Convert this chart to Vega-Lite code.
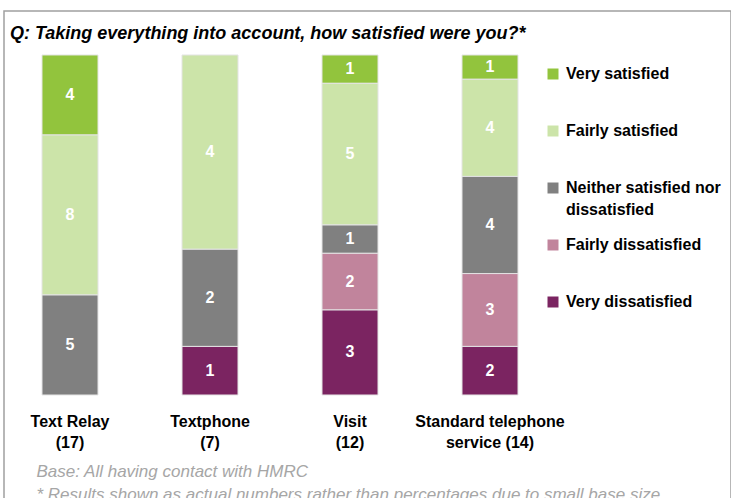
{
  "$schema": "https://vega.github.io/schema/vega-lite/v6.json",
  "width": 727,
  "height": 500,
  "autosize": {"type": "none"},
  "padding": {"left": 4, "top": 11, "right": 0, "bottom": 0},
  "background": "white",
  "config": {
    "view": {"stroke": "#a0a0a0", "strokeWidth": 1.5},
    "font": "Liberation Sans",
    "style": {"guide-label": {"lineHeight": 22}}
  },
  "title": {
    "text": "Q: Taking everything into account, how satisfied were you?*",
    "anchor": "start",
    "frame": "group",
    "offset": -46,
    "baseline": "alphabetic",
    "dx": 6,
    "font": "Liberation Sans",
    "fontSize": 18,
    "fontStyle": "italic",
    "fontWeight": "bold",
    "color": "black"
  },
  "data": {
    "values": [
      {"channel": "Text Relay (17)", "rating": "Very satisfied", "count": 4, "order": 5},
      {"channel": "Text Relay (17)", "rating": "Fairly satisfied", "count": 8, "order": 4},
      {"channel": "Text Relay (17)", "rating": "Neither satisfied nor dissatisfied", "count": 5, "order": 3},
      {"channel": "Textphone (7)", "rating": "Fairly satisfied", "count": 4, "order": 4},
      {"channel": "Textphone (7)", "rating": "Neither satisfied nor dissatisfied", "count": 2, "order": 3},
      {"channel": "Textphone (7)", "rating": "Very dissatisfied", "count": 1, "order": 1},
      {"channel": "Visit (12)", "rating": "Very satisfied", "count": 1, "order": 5},
      {"channel": "Visit (12)", "rating": "Fairly satisfied", "count": 5, "order": 4},
      {"channel": "Visit (12)", "rating": "Neither satisfied nor dissatisfied", "count": 1, "order": 3},
      {"channel": "Visit (12)", "rating": "Fairly dissatisfied", "count": 2, "order": 2},
      {"channel": "Visit (12)", "rating": "Very dissatisfied", "count": 3, "order": 1},
      {"channel": "Standard telephone service (14)", "rating": "Very satisfied", "count": 1, "order": 5},
      {"channel": "Standard telephone service (14)", "rating": "Fairly satisfied", "count": 4, "order": 4},
      {"channel": "Standard telephone service (14)", "rating": "Neither satisfied nor dissatisfied", "count": 4, "order": 3},
      {"channel": "Standard telephone service (14)", "rating": "Fairly dissatisfied", "count": 3, "order": 2},
      {"channel": "Standard telephone service (14)", "rating": "Very dissatisfied", "count": 2, "order": 1}
    ]
  },
  "encoding": {
    "x": {
      "field": "channel",
      "type": "nominal",
      "sort": ["Text Relay (17)", "Textphone (7)", "Visit (12)", "Standard telephone service (14)"],
      "scale": {"paddingInner": 0.6, "paddingOuter": 0.8964, "align": 0.1514},
      "axis": {
        "offset": -111,
        "domain": false,
        "ticks": false,
        "tickSize": 0,
        "labelAngle": 0,
        "labelPadding": 13,
        "labelFont": "Liberation Sans",
        "labelFontSize": 16,
        "labelFontWeight": "bold",
        "labelColor": "black",
        "labelLineHeight": 21,
        "labelExpr": "datum.value == 'Standard telephone service (14)' ? ['Standard telephone', 'service (14)'] : split(replace(datum.value, ' (', '|('), '|')",
        "title": ["Base: All having contact with HMRC", "* Results shown as actual numbers rather than percentages due to small base size"],
        "titleAnchor": "start",
        "titleAlign": "left",
        "titleX": 32,
        "titleY": 76,
        "titleBaseline": "alphabetic",
        "titleFont": "Liberation Sans",
        "titleFontSize": 17,
        "titleFontStyle": "italic",
        "titleFontWeight": "normal",
        "titleColor": "#a6a6a6",
        "titleLineHeight": 23
      }
    },
    "y": {
      "field": "count",
      "type": "quantitative",
      "stack": "normalize",
      "scale": {"domain": [-0.3412, 1.1294], "nice": false, "zero": false},
      "axis": null
    },
    "order": {"field": "order", "type": "quantitative"}
  },
  "layer": [
    {
      "mark": {"type": "bar", "stroke": "#e4e4e4", "strokeWidth": 1},
      "encoding": {
        "color": {
          "field": "rating",
          "type": "nominal",
          "scale": {
            "domain": ["Very satisfied", "Fairly satisfied", "Neither satisfied nor dissatisfied", "Fairly dissatisfied", "Very dissatisfied"],
            "range": ["#92c43d", "#cce4a9", "#808080", "#c1849c", "#7b2461"]
          },
          "legend": {
            "orient": "none",
            "legendX": 541,
            "legendY": 55,
            "title": null,
            "padding": 0,
            "symbolType": "square",
            "symbolSize": 121,
            "symbolStrokeWidth": 0,
            "labelFont": "Liberation Sans",
            "labelFontSize": 16,
            "labelFontWeight": "bold",
            "labelColor": "black",
            "labelOffset": 5,
            "labelLimit": 300,
            "rowPadding": 19,
            "gridAlign": "all",
            "labelExpr": "datum.value == 'Neither satisfied nor dissatisfied' ? ['Neither satisfied nor', 'dissatisfied'] : datum.label",
            "encode": {
              "labels": {
                "update": {
                  "dy": {"signal": "datum.value == 'Neither satisfied nor dissatisfied' ? 11 : 0"},
                  "lineHeight": {"value": 22}
                }
              }
            }
          }
        }
      }
    },
    {
      "mark": {"type": "text", "color": "white", "fontWeight": "bold", "fontSize": 16, "font": "Liberation Sans", "baseline": "middle"},
      "encoding": {
        "y": {
          "field": "count",
          "type": "quantitative",
          "stack": "normalize",
          "bandPosition": 0.5
        },
        "detail": {"field": "rating"},
        "text": {"field": "count", "type": "quantitative"}
      }
    }
  ]
}
